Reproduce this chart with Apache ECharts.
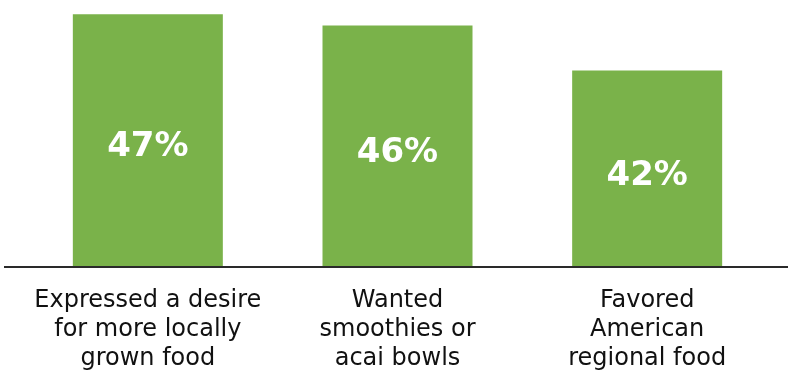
<!DOCTYPE html>
<html>
<head>
<meta charset="utf-8">
<script src="https://cdn.jsdelivr.net/npm/echarts@6/dist/echarts.min.js"></script>
<style>
  html, body { margin: 0; padding: 0; background: #fff; }
  #chart { width: 788px; height: 374px; }
</style>
</head>
<body>
<div id="chart"></div>
<script>
// categories and values
var categories = [
	'Expressed a desire\nfor more locally\ngrown food',
	'Wanted\nsmoothies or\nacai bowls',
	'Favored\nAmerican\nregional food'
];
var values = [47, 46, 42];

var myChart = echarts.init(document.getElementById('chart'));
var option = {
	animation: false,
	grid: { left: 23, right: 16, top: 8.5, bottom: 107 },
	xAxis: {
		type: 'category',
		data: categories,
		axisLine: { show: false },
		axisTick: { show: false },
		axisLabel: {
			color: '#111',
			fontFamily: 'DejaVu Sans',
			fontSize: 24,
			lineHeight: 29,
			margin: 19,
			interval: 0
		}
	},
	yAxis: {
		type: 'value',
		min: 24.6,
		max: 47.5,
		show: false,
		splitLine: { show: false }
	},
	series: [{
		type: 'bar',
		data: values,
		barWidth: 150,
		itemStyle: { color: '#7AB24A' },
		label: {
			show: true,
			position: 'inside',
			offset: [0, 7],
			color: '#fff',
			fontFamily: 'DejaVu Sans',
			fontWeight: 'bold',
			fontSize: 34,
			formatter: '{c}%'
		}
	}]
};
myChart.setOption(option);

// baseline runs across the full width
var baseY = myChart.convertToPixel({ yAxisIndex: 0 }, 24.6);
myChart.setOption({
	graphic: [{
		type: 'line',
		shape: { x1: 4, y1: baseY, x2: 788, y2: baseY },
		style: { stroke: '#2a2a2a', lineWidth: 2 },
		z: 10
	}]
});
</script>
</body>
</html>
